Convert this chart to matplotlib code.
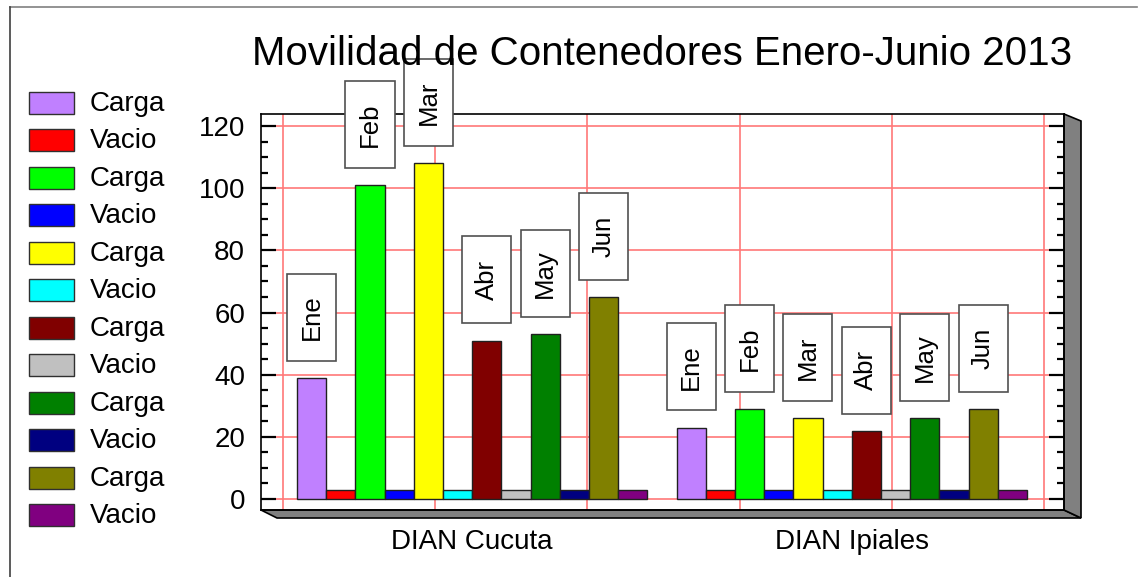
import matplotlib
matplotlib.use("Agg")
import matplotlib.pyplot as plt
from matplotlib.patches import Rectangle, Polygon
from matplotlib.lines import Line2D
from matplotlib.ticker import MultipleLocator

plt.rcParams['font.family'] = ['Liberation Sans', 'DejaVu Sans']

title = "Movilidad de Contenedores Enero-Junio 2013"
groups = ["DIAN Cucuta", "DIAN Ipiales"]
months = ["Ene", "Feb", "Mar", "Abr", "May", "Jun"]
carga_cucuta = [39, 101, 108, 51, 53, 65]
vacio_cucuta = [3, 3, 3, 3, 3, 3]
carga_ipiales = [23, 29, 26, 22, 26, 29]
vacio_ipiales = [3, 3, 3, 3, 3, 3]
carga_colors = ["#c080ff", "#00ff00", "#ffff00", "#800000", "#008000", "#808000"]
vacio_colors = ["#ff0000", "#0000ff", "#00ffff", "#c0c0c0", "#000080", "#800080"]

W, H = 1145, 577
fig = plt.figure(figsize=(W / 100, H / 100), dpi=100)
ax = fig.add_axes([261 / W, 1 - 510 / H, 803 / W, 396 / H])

x0, x1 = -1.733, 25.77
ax.set_xlim(x0, x1)
ax.set_ylim(-3.54, 123.9)

# grid (drawn behind bars)
for y in range(0, 121, 20):
    ax.axhline(y, color="#ff7878", lw=1.2, zorder=0.5)
for k in range(6):
    f = 0.0275 + 0.1895 * k
    ax.axvline(x0 + f * (x1 - x0), color="#ff7878", lw=1.2, zorder=0.5)

group_vals = [(carga_cucuta, vacio_cucuta), (carga_ipiales, vacio_ipiales)]
gap = 13
for m in range(6):
    xc = [g * gap + 2 * m for g in range(2)]
    xv = [g * gap + 2 * m + 1 for g in range(2)]
    hc = [group_vals[g][0][m] for g in range(2)]
    hv = [group_vals[g][1][m] for g in range(2)]
    ax.bar(xc, hc, width=1.0, color=carga_colors[m], edgecolor="#202020", lw=1, zorder=2)
    ax.bar(xv, hv, width=1.0, color=vacio_colors[m], edgecolor="#202020", lw=1, zorder=2)
    # month label boxes above carga bars
    for x, h in zip(xc, hc):
        bw, bh, off = 1.68, 28, 5.5
        ax.add_patch(Rectangle((x - bw / 2, h + off), bw, bh, fc="white",
                               ec="#505050", lw=1.2, zorder=5, clip_on=False))
        ax.text(x, h + off + bh / 2, months[m], rotation=90, ha="center",
                va="center", fontsize=18.5, zorder=6, clip_on=False)

ax.set_xticks([5.5, 18.5], groups)
ax.tick_params(axis="x", length=0, pad=14, labelsize=20)

ax.set_yticks(range(0, 121, 20))
ax.yaxis.set_minor_locator(MultipleLocator(5))
ax.tick_params(axis="y", which="major", direction="in", length=11, width=1.6,
               left=True, right=True, pad=11.5, labelsize=20)
ax.tick_params(axis="y", which="minor", direction="in", length=5, width=1.6,
               left=True, right=True)
for s in ax.spines.values():
    s.set_linewidth(1.2)
    s.set_zorder(4)

# 3D floor and right wall
dx, dy = 17 / 803, 8 / 396
floor = Polygon([(0, 0), (1, 0), (1 + dx, -dy), (16 / 803, -dy)], closed=True,
                transform=ax.transAxes, fc="#808080", ec="black", lw=1.2, clip_on=False)
wall = Polygon([(1, 1), (1 + dx, 1 - 7 / 396), (1 + dx, -dy), (1, 0)], closed=True,
               transform=ax.transAxes, fc="#808080", ec="black", lw=1.2, clip_on=False)
ax.add_patch(floor)
ax.add_patch(wall)

fig.text(662 / W, 1 - 65 / H, title, ha="center", va="baseline", fontsize=29)

# legend
labels = []
colors = []
for m in range(6):
    labels += ["Carga", "Vacio"]
    colors += [carga_colors[m], vacio_colors[m]]
for i, (lab, col) in enumerate(zip(labels, colors)):
    yc = 103 + i * 37.45
    fig.add_artist(Rectangle((29 / W, 1 - (yc + 11) / H), 45 / W, 22 / H,
                             transform=fig.transFigure, fc=col, ec="#303030", lw=1))
    fig.text(90 / W, 1 - (yc + 1) / H, lab, ha="left", va="center", fontsize=20)

# outer frame lines
fig.add_artist(Line2D([10 / W, 1137 / W], [1 - 7 / H, 1 - 7 / H],
                      transform=fig.transFigure, color="#808080", lw=1.2))
fig.add_artist(Line2D([10 / W, 10 / W], [1 - 7 / H, 0],
                      transform=fig.transFigure, color="#404040", lw=1.2))

fig.savefig("out.png", dpi=100)
